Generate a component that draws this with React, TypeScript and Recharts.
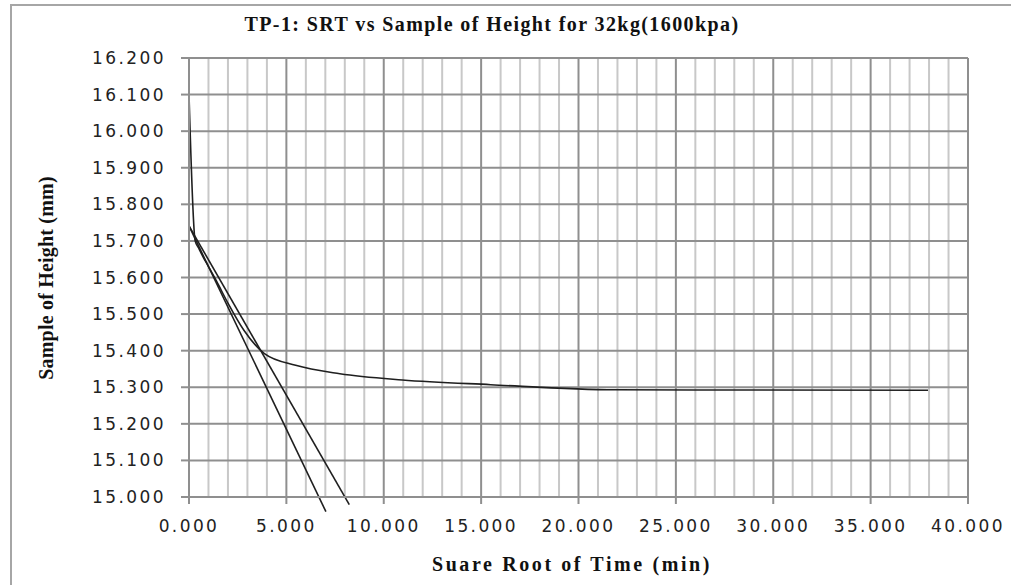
import React from 'react';
import { LineChart, Line, XAxis, YAxis, ReferenceLine } from 'recharts';

// square root of time (min) vs sample height (mm)
const sqrtTime = [0, 0.316, 0.5, 0.707, 1, 1.414, 2, 2.828, 3.873, 5.477, 7.746, 10.954, 15.492, 21.909, 37.947];
const sampleHeight = [16.1, 15.7, 15.68, 15.658, 15.63, 15.59, 15.53, 15.455, 15.392, 15.36, 15.337, 15.32, 15.307, 15.293, 15.292];

// construction lines (Taylor method)
const tangentX = [0, 7.03];
const tangentY = [15.741, 14.96];
const tangent115X = [0, 8.23];
const tangent115Y = [15.741, 14.979];

const xTicks = [0, 5, 10, 15, 20, 25, 30, 35, 40];
const xMinor = [1, 2, 3, 4, 6, 7, 8, 9, 11, 12, 13, 14, 16, 17, 18, 19, 21, 22, 23, 24, 26, 27, 28, 29, 31, 32, 33, 34, 36, 37, 38, 39];
const yTicks = [15.0, 15.1, 15.2, 15.3, 15.4, 15.5, 15.6, 15.7, 15.8, 15.9, 16.0, 16.1, 16.2];

const curve = sqrtTime.map((x, i) => ({ x, y: sampleHeight[i] }));
const tangent = tangentX.map((x, i) => ({ x, y: tangentY[i] }));
const tangent115 = tangent115X.map((x, i) => ({ x, y: tangent115Y[i] }));

const tickFont = { fill: '#222', fontSize: 17, fontFamily: 'DejaVu Sans', letterSpacing: 2.4 };
const titleFont = 'Liberation Serif';

export default function App() {
  return (
    <div style={{ position: 'relative', width: 1011, height: 585, overflow: 'hidden', background: '#fff' }}>
      <style>{'body{margin:0} .recharts-wrapper [clip-path]{clip-path:none !important}'}</style>
      <div
        style={{
          position: 'absolute',
          left: 10,
          top: 4,
          width: 1100,
          height: 700,
          border: '2px solid #a6a6a6',
        }}
      />
      <div style={{ position: 'absolute', left: 0, top: 0 }}>
        <LineChart width={1011} height={585} margin={{ top: 58, right: 43, left: 89, bottom: 48 }}>
          {xMinor.map((v) => (
            <ReferenceLine key={'m' + v} x={v} stroke="#c8c8c8" strokeWidth={2} />
          ))}
          {xTicks.slice(1).map((v) => (
            <ReferenceLine key={'M' + v} x={v} stroke="#8f8f8f" strokeWidth={2} />
          ))}
          {yTicks.slice(1).map((v) => (
            <ReferenceLine key={'h' + v} y={v} stroke="#8f8f8f" strokeWidth={2} />
          ))}
          <XAxis
            type="number"
            dataKey="x"
            domain={[0, 40]}
            ticks={xTicks}
            allowDataOverflow
            height={40}
            tickSize={7}
            tickMargin={16}
            tickFormatter={(v: number) => v.toFixed(3)}
            tick={tickFont}
            stroke="#8f8f8f"
            strokeWidth={2}
          />
          <YAxis
            type="number"
            dataKey="y"
            domain={[15, 16.2]}
            ticks={yTicks}
            allowDataOverflow
            width={100}
            tickSize={8}
            tickMargin={15}
            tickFormatter={(v: number) => v.toFixed(3)}
            tick={tickFont}
            stroke="#8f8f8f"
            strokeWidth={2}
          />
          <Line data={curve} dataKey="y" type="monotone" stroke="#1f1f1f" strokeWidth={1.6} dot={false} isAnimationActive={false} />
          <Line data={tangent} dataKey="y" type="linear" stroke="#1f1f1f" strokeWidth={1.6} dot={false} isAnimationActive={false} />
          <Line data={tangent115} dataKey="y" type="linear" stroke="#1f1f1f" strokeWidth={1.6} dot={false} isAnimationActive={false} />
        </LineChart>
      </div>
      <svg width={1011} height={585} style={{ position: 'absolute', left: 0, top: 0, pointerEvents: 'none' }}>
        <text x={492} y={31} textAnchor="middle" fontFamily={titleFont} fontWeight="bold" fontSize={20} letterSpacing={1.4} fill="#111">
          TP-1: SRT vs Sample of Height for 32kg(1600kpa)
        </text>
        <text x={572} y={571} textAnchor="middle" fontFamily={titleFont} fontWeight="bold" fontSize={20} letterSpacing={2.6} fill="#111">
          Suare Root of Time (min)
        </text>
        <text
          transform="translate(53,278) rotate(-90)"
          textAnchor="middle"
          fontFamily={titleFont}
          fontWeight="bold"
          fontSize={20}
          letterSpacing={0.2}
          fill="#111"
        >
          Sample of Height (mm)
        </text>
      </svg>
    </div>
  );
}
